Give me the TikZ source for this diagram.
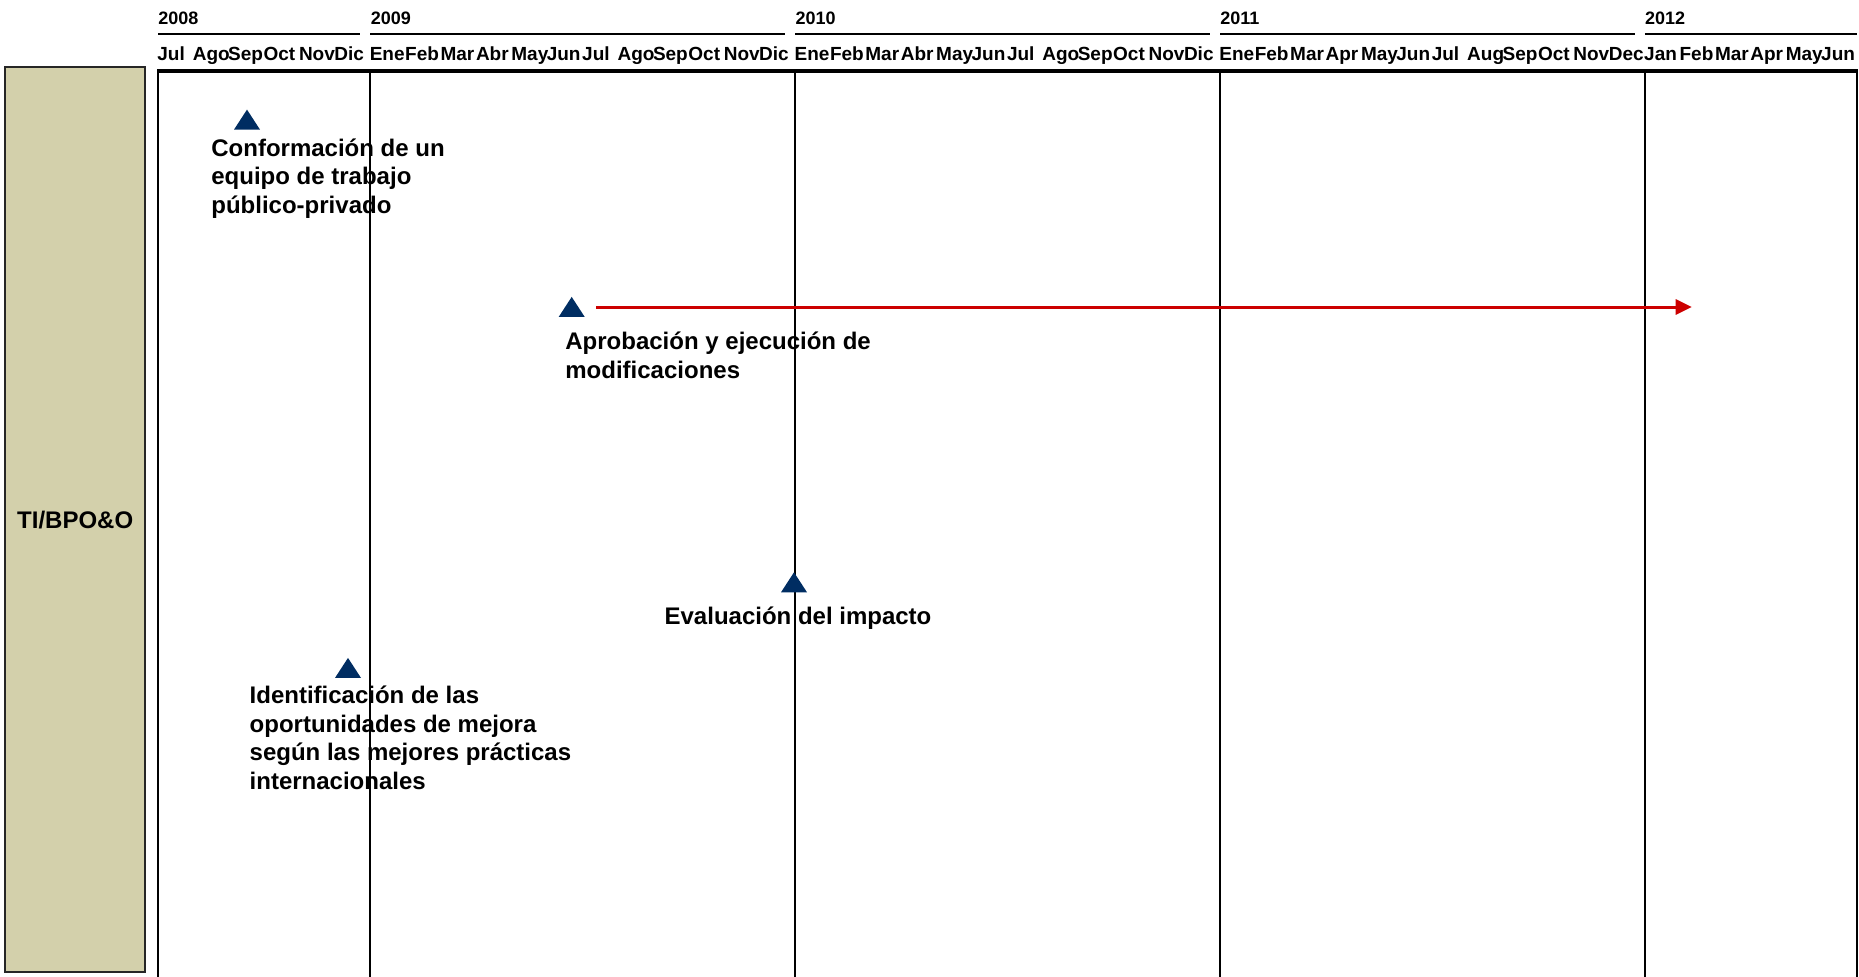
\documentclass[tikz,border=0pt]{standalone}
\usepackage{fontspec}
\setmainfont{Liberation Sans}
\usepackage{xcolor}
\usetikzlibrary{shapes,arrows.meta,positioning}

\definecolor{beige}{RGB}{211,208,171}
\definecolor{azul}{RGB}{0,45,98}
\definecolor{rojo}{RGB}{204,0,0}

\begin{document}
\begin{tikzpicture}[x=0.5pt, y=-0.5pt,
    anio/.style={anchor=base west, inner sep=0pt, font=\fontsize{9}{10}\selectfont\bfseries},
    mes/.style={anchor=base west, inner sep=0pt, font=\fontsize{9.5}{10}\selectfont\bfseries},
    area/.style={rectangle, draw=black!85, fill=beige, line width=1pt, minimum width=70pt, minimum height=452.5pt, font=\fontsize{12}{14}\selectfont\bfseries},
    hito/.style={isosceles triangle, isosceles triangle stretches, shape border rotate=90, fill=azul, minimum width=13pt, minimum height=10pt, inner sep=0pt},
    texto/.style={align=left, inner sep=0pt, font=\fontsize{12}{14.25}\selectfont\bfseries},
    eje/.style={draw, line width=1pt},
    line/.style={draw, rojo, line width=1.5pt, -{Triangle[length=8pt,width=7.5pt]}}]

    \useasboundingbox (0,0) rectangle (1859,976);

    % years and months
    \foreach \anio/\xa/\xb in {2008/158/360.4, 2009/370.4/785.2, 2010/795.2/1210, 2011/1220/1634.8, 2012/1644.8/1857}{
        \node [anio] (a\anio) at (\xa,24) {\anio};
        \draw [eje] (\xa,34.3) -- (\xb,34.3);
    }
    \foreach \mes [count=\i from 0] in {Jul,Ago,Sep,Oct,Nov,Dic,
        Ene,Feb,Mar,Abr,May,Jun,Jul,Ago,Sep,Oct,Nov,Dic,
        Ene,Feb,Mar,Abr,May,Jun,Jul,Ago,Sep,Oct,Nov,Dic,
        Ene,Feb,Mar,Apr,May,Jun,Jul,Aug,Sep,Oct,Nov,Dec,
        Jan,Feb,Mar,Apr,May,Jun}
        \node [mes] (m\i) at (157+\i*35.4,60) {\mes};

    % frame
    \draw [eje] (158,980) -- (158,71) -- (1857,71) -- (1857,980);
    \draw [line width=1.75pt] (157,71) -- (1858,71);
    \foreach \xl in {370.4,795.2,1220,1644.8}
        \draw [eje] (\xl,71) -- (\xl,980);

    \node [area] (ti) at (75.2,519.9) {TI/BPO\&O};

    % milestones
    \node [hito, anchor=south] (t1) at (247,130) {};
    \node [hito, anchor=south] (t2) at (571.7,317.3) {};
    \node [hito, anchor=south] (t3) at (794,592.7) {};
    \node [hito, anchor=south] (t4) at (348,678.3) {};

    \node [texto, below=4pt of t1.south, anchor=north west, xshift=-18pt] (x1) {Conformación de un\\equipo de trabajo\\público-privado};
    \node [texto, below=7.3pt of t2.south, anchor=north west, xshift=-3.35pt] (x2) {Aprobación y ejecución de\\modificaciones};
    \node [texto, below=6.75pt of t3.south, xshift=2pt] (x3) {Evaluación del impacto};
    \node [texto, below=3.6pt of t4.south, anchor=north west, xshift=-49.35pt] (x4) {Identificación de las\\oportunidades de mejora\\según las mejores prácticas\\internacionales};

    \coordinate (fin) at (1691.7,307);
    \draw [line] ([xshift=12.15pt]t2.south |- fin) -- (fin);
\end{tikzpicture}
\end{document}
